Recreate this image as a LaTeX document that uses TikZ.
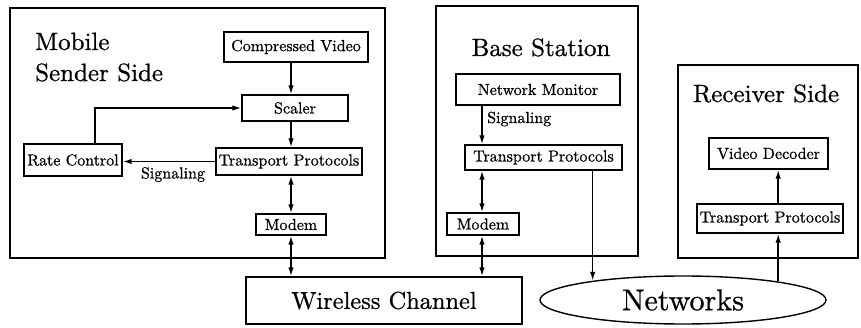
\documentclass[tikz,border=0pt]{standalone}
\usepackage{fontspec}
\setmainfont{lmroman10-regular.otf}[RawFeature={embolden=0.8}]
\usetikzlibrary{arrows.meta,shapes.geometric}
\tikzset{
  box/.style={draw, line width=1.4pt, inner sep=0pt, font=\fontsize{16}{19}\selectfont},
  frame/.style={draw, line width=1.6pt, inner sep=0pt},
  title/.style={inner sep=0pt, font=\fontsize{25}{30}\selectfont},
  lbl/.style={inner sep=0pt, font=\fontsize{16}{19}\selectfont},
  tip/.tip={Latex[length=9pt,width=5.5pt]},
  arr/.style={line width=1.5pt, -tip},
  dbl/.style={line width=1.5pt, tip-tip},
}
\begin{document}
\begin{tikzpicture}[x=1pt,y=-1pt]
\useasboundingbox (0,0) rectangle (861,328);

% --- container frames
\node[frame, minimum width=375pt, minimum height=250pt] (mobile) at (197.5,133) {};
\node[frame, minimum width=202pt, minimum height=250pt] (base) at (537,131) {};
\node[frame, minimum width=180pt, minimum height=193pt] (recv) at (768,161.5) {};

% --- titles
\node[title, anchor=base west] (t1) at (35,50) {Mobile};
\node[title, anchor=base west] (t2) at (35,81) {Sender Side};
\node[title, anchor=base] (t3) at (541,56) {Base Station};
\node[title, anchor=base] (t4) at (766,102) {Receiver Side};

% --- mobile sender side
\node[box, minimum width=144pt, minimum height=30pt] (cv) at (296,47) {Compressed Video};
\node[box, minimum width=106pt, minimum height=26pt] (sc) at (295,108) {Scaler};
\node[box, minimum width=146pt, minimum height=27pt] (mtp) at (289,161.5) {Transport Protocols};
\node[box, minimum width=98pt, minimum height=32pt] (rc) at (73,160) {Rate Control};
\node[box, minimum width=70pt, minimum height=21pt] (mmd) at (291,224.5) {Modem};

% --- base station
\node[box, minimum width=164pt, minimum height=31pt] (nm) at (538,89.5) {Network Monitor};
\node[box, minimum width=157pt, minimum height=25pt] (btp) at (543.5,157.5) {Transport Protocols};
\node[box, minimum width=72pt, minimum height=22pt] (bmd) at (483,224) {Modem};

% --- receiver side
\node[box, minimum width=119pt, minimum height=31pt] (vd) at (768.5,153.5) {Video Decoder};
\node[box, minimum width=146pt, minimum height=29pt] (rtp) at (770,218.5) {Transport Protocols};

% --- channel and network
\node[draw, line width=1.4pt, inner sep=0pt, minimum width=276pt, minimum height=47pt,
      font=\fontsize{24.4}{29}\selectfont] (wc) at (384,300.5) {Wireless Channel};
\node[draw, ellipse, line width=1.4pt, inner sep=0pt, minimum width=286pt, minimum height=48pt,
      font=\fontsize{30}{35}\selectfont] (net) at (683,300) {Networks};

% --- vertical guide columns
\coordinate (ma) at (291,0);
\coordinate (ba) at (482,0);
\coordinate (ra) at (net.11.5);
\coordinate (la) at (net.168.5);

% --- mobile connectors
\draw[arr] (cv.south -| ma) -- (sc.north -| ma);
\draw[arr] (sc.south -| ma) -- (mtp.north -| ma);
\draw[dbl] (mtp.south -| ma) -- (mmd.north -| ma);
\draw[dbl] (mmd.south -| ma) -- (wc.north -| ma);
\draw[arr] (mtp.west) -- (mtp.west -| rc.east);
\node[lbl, anchor=north] (sig1) at (173,167) {Signaling};
\coordinate (rcup) at (95,0);
\draw[arr] (rc.north -| rcup) |- (sc.west);

% --- base station connectors
\draw[arr] (nm.south -| ba) -- (btp.north -| ba);
\node[lbl, anchor=base west] (sig2) at (487,123) {Signaling};
\draw[dbl] (btp.south -| ba) -- (bmd.north -| ba);
\draw[dbl] (bmd.south -| ba) -- (wc.north -| ba);
\draw[arr] (btp.south -| la) -- (la);

% --- receiver connectors
\draw[arr] (ra) -- (rtp.south -| ra);
\draw[arr] (rtp.north -| ra) -- (vd.south -| ra);
\end{tikzpicture}
\end{document}
